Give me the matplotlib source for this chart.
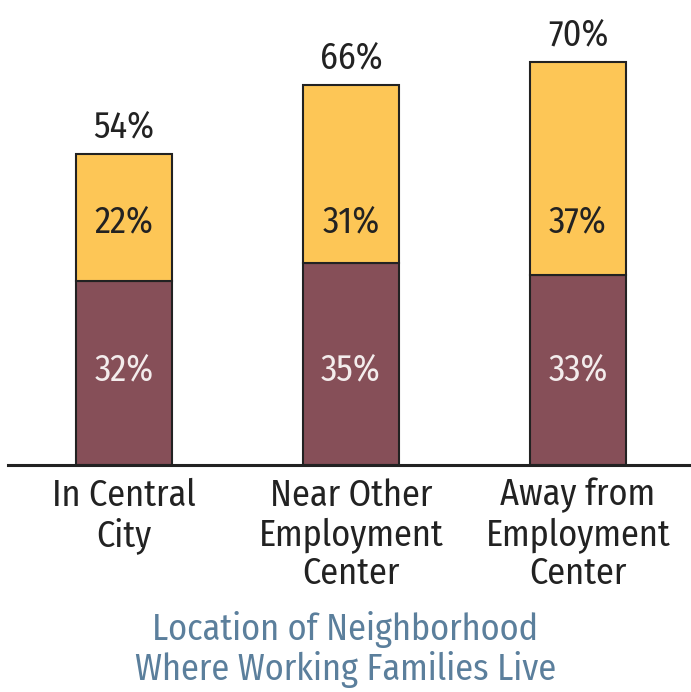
import matplotlib.pyplot as plt

categories = ["In Central\nCity", "Near Other\nEmployment\nCenter", "Away from\nEmployment\nCenter"]
bottom_vals = [32, 35, 33]
top_vals = [22, 31, 37]
totals = [54, 66, 70]

plt.rcParams["font.family"] = ["Fira Sans Condensed", "DejaVu Sans"]

fig = plt.figure(figsize=(6.91, 6.92), dpi=100)
ax = fig.add_axes([8 / 691, 227 / 692, 683 / 691, 465 / 692])

x = list(range(len(categories)))
w = 0.423
ax.bar(x, bottom_vals, width=w, color="#864F58", edgecolor="#222222", linewidth=1.5)
ax.bar(x, top_vals, width=w, bottom=bottom_vals, color="#FDC656",
       edgecolor="#222222", linewidth=1.5)

# inside labels sit on a common row in the original
fs = 26
for i in x:
    ax.text(i, 16.5, f"{bottom_vals[i]}%", ha="center", va="center",
            fontsize=fs, color="#F3ECEC")
    ax.text(i, 42.2, f"{top_vals[i]}%", ha="center",
            va="center", fontsize=fs, color="#222222")
    ax.text(i, totals[i] + 4.6, f"{totals[i]}%", ha="center", va="center",
            fontsize=fs, color="#222222")

ax.set_xlim(-0.511, 2.498)
ax.set_ylim(0, 80.7)
ax.axhline(0, color="#222222", linewidth=2.2, clip_on=False)
for s in ax.spines.values():
    s.set_visible(False)
ax.set_yticks([])
ax.set_xticks(x)
ax.set_xticklabels(categories, fontsize=fs, color="#222222", linespacing=1.13)
ax.tick_params(axis="x", length=0, pad=9)

fig.text(0.5, 0.061, "Location of Neighborhood\nWhere Working Families Live",
         ha="center", va="center", fontsize=fs, color="#5B7F9C", linespacing=1.1)

fig.savefig("out.png", dpi=100, facecolor="white")
